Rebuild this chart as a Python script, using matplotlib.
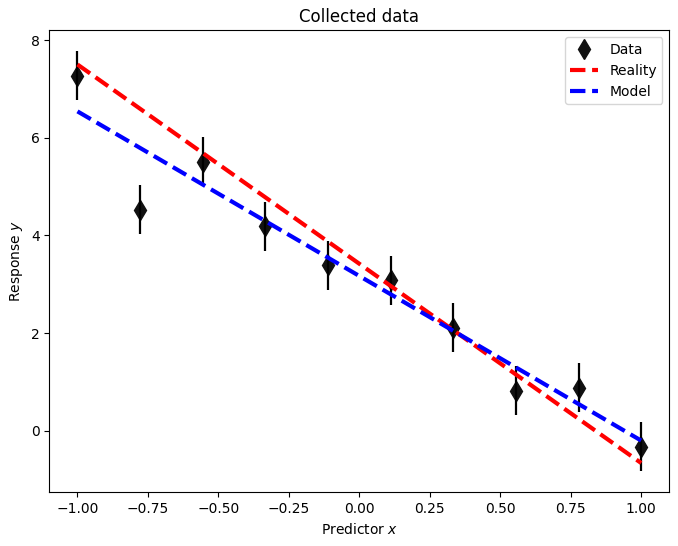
import numpy as np
import matplotlib
matplotlib.use("Agg")
import matplotlib.pyplot as plt

x = np.linspace(-1, 1, 10)
y = [7.27, 4.53, 5.51, 4.19, 3.39, 3.08, 2.11, 0.82, 0.88, -0.33]
yerr = [0.5] * 10
reality_coef = [3.42, -4.08]   # intercept, slope
model_coef = [3.17, -3.37]

fig = plt.figure(figsize=(6.78, 5.46), dpi=100)
ax = fig.add_axes([0.0727, 0.0983, 0.9145, 0.8462])

ax.plot(x, y, 'd', color='#111111', markersize=10, label='Data')
ax.errorbar(x, y, yerr=yerr, fmt='none', ecolor='k', elinewidth=1.6)
ax.plot(x, reality_coef[0] + reality_coef[1] * x, 'r--', lw=3, label='Reality')
ax.plot(x, model_coef[0] + model_coef[1] * x, 'b--', lw=3, label='Model')

ax.set_title('Collected data')
ax.set_xlabel('Predictor $x$')
ax.set_ylabel('Response $y$')
ax.legend(loc='upper right')

fig.savefig('out.png', dpi=100)
